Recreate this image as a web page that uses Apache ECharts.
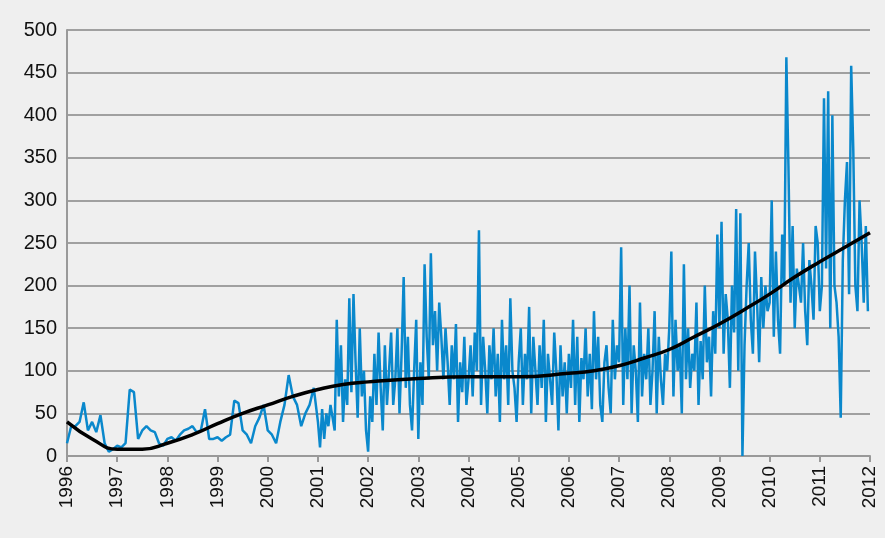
<!DOCTYPE html>
<html><head><meta charset="utf-8">
<script src="https://cdn.jsdelivr.net/npm/echarts@6/dist/echarts.min.js"></script>
<style>html,body{margin:0;background:#fff}#c{width:885px;height:538px}</style>
</head><body><div id="c"></div>
<script>
// monthly values 1996-2000
var early = [15,35,35,40,63,30,40,28,48,15,5,8,12,10,15,78,75,20,30,35,30,28,15,12,
  20,22,18,25,30,32,35,28,30,55,20,20,22,18,22,25,65,62,30,25,15,35,45,60,
  30,25,15,40,60,95,70,60,35,50,60,80];
// half-monthly values 2001-2011
var y2001 = [40,10,55,20,50,35,60,45,30,160,70,130,40,90,60,185,75,190,110,45,150,70,100,30];
var y2002 = [5,70,40,120,60,145,80,30,130,60,100,145,60,90,150,50,120,210,80,140,60,30,100,160];
var y2003 = [20,110,60,225,140,90,238,130,170,100,180,140,90,150,110,60,130,90,155,40,110,75,140,60];
var y2004 = [90,130,70,145,100,265,60,140,100,50,130,90,150,70,120,40,160,90,130,60,185,100,80,40];
var y2005 = [110,150,60,120,90,175,50,140,100,60,130,80,160,40,120,90,60,145,100,30,130,70,110,50];
var y2006 = [120,80,160,60,140,40,115,90,150,70,120,55,170,90,140,60,40,110,130,80,50,160,90,130];
var y2007 = [110,245,60,150,90,200,50,130,100,40,180,70,120,90,150,60,100,170,50,140,90,60,120,100];
var y2008 = [150,240,70,160,100,130,50,225,90,150,80,120,100,180,60,135,90,200,110,140,70,170,120,260];
var y2009 = [150,275,120,190,160,80,200,145,290,100,285,0,130,200,250,160,120,240,180,110,210,150,200,170];
var y2010 = [180,300,140,240,160,120,260,200,468,340,180,270,150,220,200,180,250,170,130,230,200,160,270,250];
var y2011 = [170,200,420,220,428,150,400,200,180,140,45,230,300,345,190,458,360,200,170,300,250,180,270,170];
// trend line
var trendX = [1996,1996.5,1997,1997.5,1998,1998.5,1999,1999.5,2000,2000.5,2001,2001.5,2002,2003,2004,2005,2006,2006.5,2007,2007.5,2008,2008.5,2009,2009.5,2010,2010.5,2011,2011.5,2012];
var trendY = [40,20,8,8,15,25,38,50,60,70,78,84,87,91,93,93,97,100,106,115,125,140,155,172,190,210,228,245,262];

var series = [];
early.forEach(function (v, i) { series.push([1996 + i / 12, v]); });
[y2001,y2002,y2003,y2004,y2005,y2006,y2007,y2008,y2009,y2010,y2011].forEach(function (arr, k) {
  arr.forEach(function (v, i) { series.push([2001 + k + i / arr.length, v]); });
});
var trend = trendX.map(function (x, i) { return [x, trendY[i]]; });

var chart = echarts.init(document.getElementById('c'));
chart.setOption({
  backgroundColor: '#efefef',
  animation: false,
  grid: { left: 67, right: 15, top: 30, bottom: 82 },
  xAxis: {
    type: 'value', min: 1996, max: 2012, interval: 1,
    axisLine: { lineStyle: { color: '#999', width: 2 } },
    axisTick: { show: true, lineStyle: { color: '#999', width: 2 }, length: 6 },
    splitLine: { show: false },
    axisLabel: { rotate: 90, color: '#111', fontSize: 19, fontFamily: 'Liberation Sans', margin: 10,
      formatter: function (v) { return String(v); } }
  },
  yAxis: {
    type: 'value', min: 0, max: 500, interval: 50,
    axisLine: { show: true, lineStyle: { color: '#999', width: 2 } },
    axisTick: { show: false },
    splitLine: { lineStyle: { color: '#a0a0a0', width: 2 } },
    axisLabel: { color: '#111', fontSize: 20, fontFamily: 'Liberation Sans', margin: 10 }
  },
  series: [
    { type: 'line', data: series, showSymbol: false, lineStyle: { color: '#0a88cc', width: 2.5 } },
    { type: 'line', data: trend, smooth: true, showSymbol: false, lineStyle: { color: '#000', width: 3.5 } }
  ]
});
</script></body></html>
